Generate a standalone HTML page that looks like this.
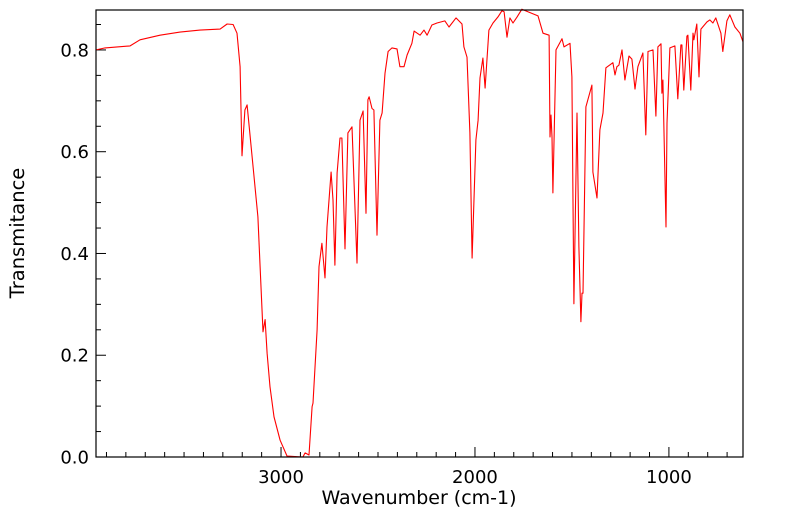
<!DOCTYPE html>
<html><head><meta charset="utf-8"><style>
body{margin:0;background:#fff;}
svg{display:block;font-family:"DejaVu Sans","Liberation Sans",sans-serif;}
</style></head><body>
<svg id="chart" width="799" height="516" viewBox="0 0 799 516" xmlns="http://www.w3.org/2000/svg">
<rect x="0" y="0" width="799" height="516" fill="#fff"/>
<g id="ticks"></g>
<path id="spectrum" fill="none" stroke="#ff0000" stroke-width="1.1" stroke-linejoin="round"/>
<rect x="96" y="10" width="647" height="447" fill="none" stroke="#000" stroke-width="1.2"/>
<text x="419" y="504" font-size="19" text-anchor="middle">Wavenumber (cm-1)</text>
<text x="24" y="233" font-size="19.5" text-anchor="middle" transform="rotate(-90 24 233)">Transmitance</text>
</svg>
<script>
const wavenumbers=[3954,3907,3778,3727,3624,3521,3418,3314,3278,3247,3227,3211,3201,3186,3175,3144,3119,3108,3093,3082,3072,3057,3036,3005,2969,2887,2876,2856,2840,2835,2814,2804,2789,2773,2763,2742,2732,2722,2711,2696,2686,2670,2655,2634,2608,2593,2577,2562,2552,2546,2531,2521,2505,2490,2479,2464,2448,2428,2402,2387,2366,2350,2325,2314,2283,2263,2247,2222,2196,2155,2134,2098,2067,2057,2041,2026,2015,1995,1984,1974,1959,1948,1928,1907,1881,1861,1850,1835,1820,1804,1783,1758,1727,1675,1649,1618,1613,1608,1603,1598,1582,1551,1541,1510,1500,1490,1474,1464,1454,1448,1443,1428,1397,1392,1371,1356,1340,1325,1289,1278,1268,1258,1242,1227,1206,1191,1175,1160,1134,1119,1108,1082,1067,1057,1041,1036,1031,1015,1010,995,969,954,938,933,923,907,902,887,876,871,856,845,835,804,789,773,758,732,722,701,686,660,634,618];
const transmittance=[0.800,0.804,0.808,0.820,0.829,0.835,0.839,0.841,0.851,0.850,0.833,0.767,0.592,0.682,0.692,0.570,0.472,0.374,0.246,0.270,0.204,0.138,0.079,0.033,0.002,0.000,0.008,0.004,0.099,0.106,0.250,0.374,0.420,0.352,0.452,0.560,0.505,0.377,0.558,0.627,0.627,0.409,0.637,0.649,0.381,0.662,0.680,0.479,0.702,0.708,0.685,0.682,0.436,0.662,0.676,0.754,0.797,0.804,0.802,0.767,0.767,0.790,0.813,0.837,0.829,0.839,0.829,0.849,0.853,0.857,0.845,0.863,0.851,0.806,0.786,0.637,0.391,0.623,0.662,0.745,0.784,0.725,0.839,0.853,0.865,0.877,0.875,0.825,0.863,0.853,0.865,0.880,0.875,0.867,0.833,0.829,0.629,0.672,0.629,0.519,0.800,0.822,0.806,0.813,0.747,0.301,0.676,0.413,0.266,0.322,0.322,0.688,0.731,0.560,0.509,0.643,0.676,0.765,0.775,0.751,0.767,0.770,0.800,0.741,0.788,0.782,0.723,0.767,0.794,0.633,0.797,0.800,0.670,0.806,0.812,0.715,0.741,0.452,0.656,0.804,0.808,0.704,0.810,0.810,0.721,0.827,0.829,0.721,0.833,0.820,0.851,0.747,0.841,0.855,0.859,0.853,0.863,0.833,0.797,0.857,0.869,0.845,0.833,0.816];
const xMajorTicks=[3000,2000,1000];
const xMajorLabels=["3000","2000","1000"];
const yMajorTicks=[0,0.2,0.4,0.6,0.8];
const yMajorLabels=["0.0","0.2","0.4","0.6","0.8"];
const X0=96,X1=743,Y0=457,Y1=10;
const wnLeft=3954,wnRight=618,tMin=0,tMax=0.8785;
function xs(w){return X0+(wnLeft-w)/(wnLeft-wnRight)*(X1-X0);}
function ys(t){return Y0-(t-tMin)/(tMax-tMin)*(Y0-Y1);}
const NS="http://www.w3.org/2000/svg";
const g=document.getElementById('ticks');
function line(x1,y1,x2,y2,name){const l=document.createElementNS(NS,'line');l.setAttribute('x1',x1);l.setAttribute('y1',y1);l.setAttribute('x2',x2);l.setAttribute('y2',y2);l.setAttribute('stroke','#000');l.setAttribute('stroke-width','1');


g.appendChild(l);}
function text(x,y,s,anchor,name){const t=document.createElementNS(NS,'text');t.setAttribute('x',x);t.setAttribute('y',y);t.setAttribute('font-size','18');t.setAttribute('text-anchor',anchor);t.textContent=s;


g.appendChild(t);}
for(let w=3900;w>=wnRight;w-=100){if(w%1000===0)continue;const x=xs(w);line(x,Y0,x,Y0-5,'x-minor-tick');}
xMajorTicks.forEach((w,i)=>{const x=xs(w);line(x,Y0,x,Y0-10,'x-major-tick');text(x,Y0+26,xMajorLabels[i],'middle','x-tick-label');});
for(let k=0;k*0.05<=tMax;k++){const t=k*0.05;const y=ys(t);const major=k%4===0;line(X0,y,X0+(major?10:5),y,major?'y-major-tick':'y-minor-tick');}
yMajorTicks.forEach((t,i)=>{const y=ys(t);text(X0-7,y+6.5,yMajorLabels[i],'end','y-tick-label');});
let d='';
wavenumbers.forEach((w,i)=>{d+=(i?'L':'M')+xs(w).toFixed(1)+','+ys(transmittance[i]).toFixed(1);});
document.getElementById('spectrum').setAttribute('d',d);
</script>
</body></html>
